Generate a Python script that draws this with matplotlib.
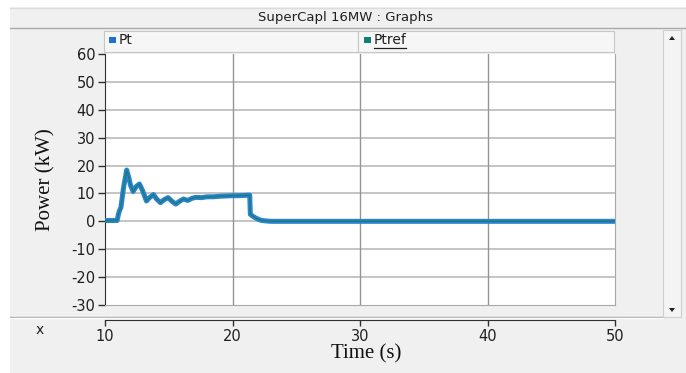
import matplotlib
matplotlib.use("Agg")
import matplotlib.pyplot as plt
from matplotlib.patches import Rectangle, Polygon
from matplotlib.lines import Line2D

# Recorded supercapacitor power trace (time in s, power in kW)
time_s = [10.0, 10.95, 11.05, 11.15, 11.25, 11.45, 11.7, 11.85, 12.0, 12.2,
          12.45, 12.7, 12.95, 13.25, 13.5, 13.8, 14.05, 14.35, 14.65, 14.95,
          15.25, 15.55, 15.85, 16.15, 16.5, 16.8, 17.1, 17.6, 18.0, 18.5,
          19.0, 19.5, 20.0, 20.5, 21.0, 21.35, 21.4, 21.6, 21.9, 22.2,
          22.5, 23.0, 50.0]
pt_kw = [0.3, 0.3, 2.5, 4.0, 5.0, 12.0, 18.4, 16.0, 13.0, 10.7,
         12.5, 13.4, 11.0, 7.3, 8.5, 9.6, 8.0, 6.7, 7.8, 8.5,
         7.2, 6.2, 7.2, 8.0, 7.5, 8.2, 8.6, 8.5, 8.8, 8.8,
         9.0, 9.1, 9.2, 9.2, 9.3, 9.4, 2.5, 1.8, 1.0, 0.4,
         0.2, 0.0, 0.0]
ptref_kw = list(pt_kw)

x_ticks = [10, 20, 30, 40, 50]
y_ticks = [60, 50, 40, 30, 20, 10, 0, -10, -20, -30]
series_names = ["Pt", "Ptref"]
window_title = "SuperCapl 16MW : Graphs"

W, H = 686, 373
fig = plt.figure(figsize=(W / 100, H / 100), dpi=100)
fig.patch.set_facecolor("white")


def fx(px):
    return px / W


def fy(py):
    return 1 - py / H


def box(x0, y0, x1, y1, fc, ec="none", lw=1.0, z=0):
    fig.patches.append(Rectangle((fx(x0), fy(y1)), (x1 - x0) / W, (y1 - y0) / H,
                                 transform=fig.transFigure, facecolor=fc,
                                 edgecolor=ec, linewidth=lw, zorder=z))


def hline(x0, x1, y, color, lw=1.0, z=1):
    fig.lines.append(Line2D([fx(x0), fx(x1)], [fy(y), fy(y)],
                            transform=fig.transFigure, color=color,
                            linewidth=lw, zorder=z))


# window panels
box(10, 7, 686, 373, "#f0f0f0", z=-10)
hline(10, 686, 7.5, "#dcdcdc")
hline(10, 686, 28, "#a9a9a9")
fig.text(fx(345), fy(18), window_title, ha="center", va="center",
         fontsize=9.5, family="DejaVu Sans", color="#202020")

# legend strip
box(104, 31, 358, 52, "#f6f6f6", ec="#c6c6c6", lw=0.8, z=1)
box(358, 31, 614, 52, "#f6f6f6", ec="#c6c6c6", lw=0.8, z=1)
box(109, 36.5, 115.5, 42.5, "#1f6fd6", z=2)
fig.text(fx(119), fy(40.5), series_names[0], ha="left", va="center",
         fontsize=10, family="DejaVu Sans", color="#202020")
box(364, 36.5, 370.5, 42.5, "#14806a", z=2)
fig.text(fx(374), fy(40.5), series_names[1], ha="left", va="center",
         fontsize=10, family="DejaVu Sans", color="#202020")
hline(374, 406, 48, "#202020", lw=0.9, z=2)

# scrollbar
box(663, 30, 681, 317, "#f4f4f4", ec="#cfcfcf", lw=0.8, z=1)
fig.patches.append(Polygon([(fx(669), fy(40)), (fx(675), fy(40)), (fx(672), fy(36))],
                           closed=True, transform=fig.transFigure,
                           facecolor="#202020", edgecolor="none", zorder=2))
fig.patches.append(Polygon([(fx(669), fy(308)), (fx(675), fy(308)), (fx(672), fy(312))],
                           closed=True, transform=fig.transFigure,
                           facecolor="#202020", edgecolor="none", zorder=2))

# separator above the time axis
hline(10, 663, 316.5, "#a8a8a8")
hline(10, 663, 317.5, "#ffffff")

# main plot
ax = fig.add_axes([fx(105), fy(305), (615 - 105) / W, (305 - 54) / H])
ax.set_zorder(5)
ax.set_facecolor("white")
ax.set_xlim(10, 50)
ax.set_ylim(-30, 60)
for yv in y_ticks:
    if -30 < yv < 60:
        ax.axhline(yv, color="#c4c4c4", linewidth=1.4, zorder=1)
for xv in x_ticks[1:-1]:
    ax.axvline(xv, color="#959595", linewidth=1.0, zorder=1)
ax.plot(time_s, pt_kw, color="#2a82d6", linewidth=3.6, solid_joinstyle="round",
        zorder=3)
ax.plot(time_s, ptref_kw, color="#1c7d78", linewidth=1.1, zorder=4)
ax.set_yticks(y_ticks)
ax.set_yticklabels([str(v) for v in y_ticks])
ax.set_xticks([])
ax.tick_params(axis="y", direction="out", length=5, width=1, color="#303030",
               pad=2, labelsize=10.5, labelcolor="#202020")
for lab in ax.get_yticklabels():
    lab.set_family("DejaVu Sans")
ax.spines["left"].set_color("#303030")
ax.spines["right"].set_color("#a8a8a8")
ax.spines["bottom"].set_color("#a8a8a8")
ax.spines["top"].set_visible(False)
ax.set_ylabel("Power (kW)", family="Liberation Serif", fontsize=15,
              color="#111111", labelpad=11)

# time axis strip
axx = fig.add_axes([fx(105), fy(319.5), (615 - 105) / W, 0.0001])
axx.set_zorder(5)
axx.set_xlim(10, 50)
axx.set_facecolor("none")
for s in ("left", "right", "top"):
    axx.spines[s].set_visible(False)
axx.spines["bottom"].set_color("#303030")
axx.set_yticks([])
axx.set_xticks(x_ticks)
axx.set_xticklabels([str(v) for v in x_ticks])
axx.tick_params(axis="x", direction="out", length=4, width=1, color="#303030",
                pad=3, labelsize=10.5, labelcolor="#202020")
for lab in axx.get_xticklabels():
    lab.set_family("DejaVu Sans")
fig.text(fx(366), fy(354), "Time (s)", ha="center", va="center",
         family="Liberation Serif", fontsize=15, color="#111111")
fig.text(fx(40), fy(330), "x", ha="center", va="center",
         family="DejaVu Sans", fontsize=10, color="#202020")

fig.savefig("out.png", dpi=100, facecolor=fig.get_facecolor())
